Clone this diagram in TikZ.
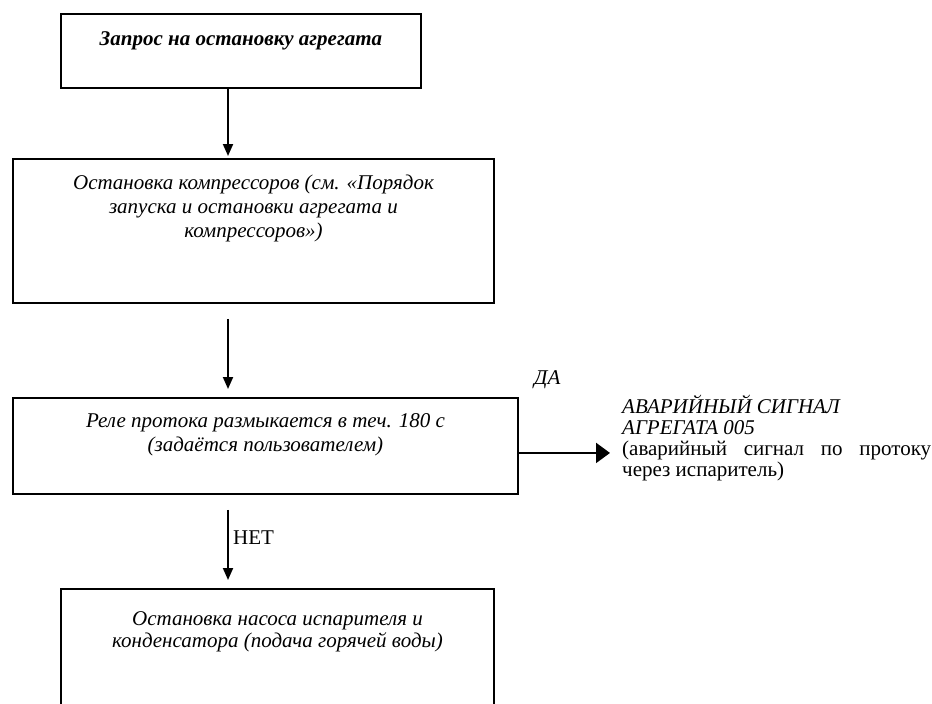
\documentclass[tikz,border=0pt]{standalone}
\usepackage{fontspec}
\setmainfont{Liberation Serif}
\usetikzlibrary{arrows.meta,calc}
\tikzset{
  box/.style={draw, line width=1.9pt, inner sep=0pt, anchor=north west, font=\fontsize{21}{24}\selectfont},
  flow/.style={line width=1.9pt, -{Triangle[length=12pt,width=10pt]}},
  bigflow/.style={line width=2.2pt, -{Triangle[length=14pt,width=20pt]}},
  lbl/.style={inner sep=0pt, anchor=base west, font=\fontsize{21}{21}\selectfont}
}
\newcommand{\boxtext}[4]{\parbox[t][#2][t]{#1}{\centering\rule{0pt}{#3}#4}}
\begin{document}
\begin{tikzpicture}[x=1pt,y=-1pt]
\useasboundingbox (0,0) rectangle (932,704);
\coordinate (col) at (228,0);
\node[box] (b1) at (60,13) {\boxtext{360pt}{74pt}{32pt}{\bfseries\itshape Запрос на остановку агрегата}};
\node[box] (b2) at (12,158) {\boxtext{481pt}{144pt}{31pt}{\itshape Остановка компрессоров (см. «Порядок\\ запуска и остановки агрегата и\\ компрессоров»)}};
\node[box] (b3) at (12,397) {\boxtext{505pt}{96pt}{30pt}{\itshape Реле протока размыкается в теч. 180 с\\ (задаётся пользователем)}};
\node[box, font=\fontsize{21}{22}\selectfont] (b4) at (60,588) {\boxtext{433pt}{130pt}{37pt}{\itshape Остановка насоса испарителя и\\ конденсатора (подача горячей воды)}};
\node[lbl] (alarm) at (622,413) {\parbox[t]{309pt}{\textit{АВАРИЙНЫЙ СИГНАЛ}\\ \textit{АГРЕГАТА 005}\\ (аварийный сигнал по протоку\linebreak через испаритель)}};
\node[lbl] (da) at (534,384) {\itshape ДА};
\node[lbl] (net) at (233,544) {НЕТ};
\draw[flow, shorten >=2pt] (col |- b1.south) -- (col |- b2.north);
\coordinate (s2) at ($(col |- b2.south)+(0,15)$);
\draw[flow, shorten >=8pt] (s2) -- (col |- b3.north);
\coordinate (s3) at ($(col |- b3.south)+(0,15)$);
\draw[flow, shorten >=8pt] (s3) -- (col |- b4.north);
\coordinate (rs) at ($(b3.east)+(0,7)$);
\draw[bigflow, shorten >=12pt] (rs) -- (rs -| alarm.west);
\end{tikzpicture}
\end{document}
